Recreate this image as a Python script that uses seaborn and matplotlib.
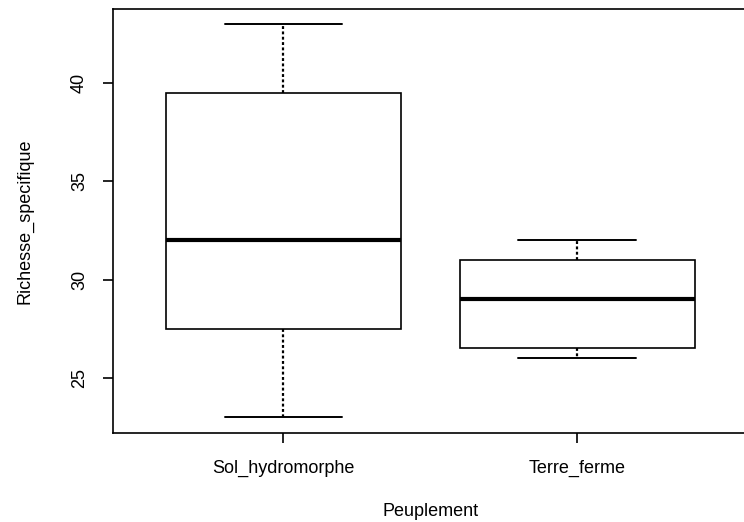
import matplotlib
matplotlib.use("Agg")
import matplotlib.pyplot as plt
import seaborn as sns
import pandas as pd

categories = ["Sol_hydromorphe", "Terre_ferme"]
sol_hydromorphe = [23, 27.5, 32, 39.5, 43]
terre_ferme = [26, 26.5, 29, 31, 32]
y_ticks = [25, 30, 35, 40]

df = pd.DataFrame({
    "Peuplement": [categories[0]] * len(sol_hydromorphe) + [categories[1]] * len(terre_ferme),
    "Richesse_specifique": sol_hydromorphe + terre_ferme,
})

sns.set_theme(style="white")
plt.rcParams["font.family"] = ["Liberation Sans", "DejaVu Sans"]

fig = plt.figure(figsize=(7.44, 5.22), dpi=100)
ax = fig.add_axes([113 / 744, 89 / 522, 634.5 / 744, 423.7 / 522])

sns.boxplot(
    data=df, x="Peuplement", y="Richesse_specifique", order=categories,
    ax=ax, width=0.8, whis=1.5, color="white", linecolor="black",
    linewidth=1.2, fliersize=0,
    medianprops=dict(linewidth=3.0, color="black"),
    whiskerprops=dict(linestyle=(0, (1.3, 1.1)), linewidth=1.6, color="black"),
    capprops=dict(linewidth=1.4, color="black"),
    boxprops=dict(linewidth=1.2, edgecolor="black", facecolor="white"),
)

ax.set_xlim(-0.58, 1.58)
ax.set_ylim(22.2, 43.75)
fs = 13
ax.set_yticks(y_ticks)
ax.set_yticklabels([str(t) for t in y_ticks], rotation=90, va="center", fontsize=fs)
ax.set_xticks([0, 1])
ax.set_xticklabels(categories, fontsize=fs)

for s in ax.spines.values():
    s.set_visible(True)
    s.set_color("black")
    s.set_linewidth(1.2)

ax.tick_params(axis="both", which="both", direction="out", length=7, width=1.2,
               color="black", labelcolor="black", left=True, bottom=True)
ax.tick_params(axis="y", pad=11)
ax.tick_params(axis="x", pad=12)
ax.set_xlabel("Peuplement", fontsize=fs, color="black", labelpad=19)
ax.set_ylabel("Richesse_specifique", fontsize=fs, color="black", labelpad=27)
ax.grid(False)

fig.savefig("out.png", dpi=100)
